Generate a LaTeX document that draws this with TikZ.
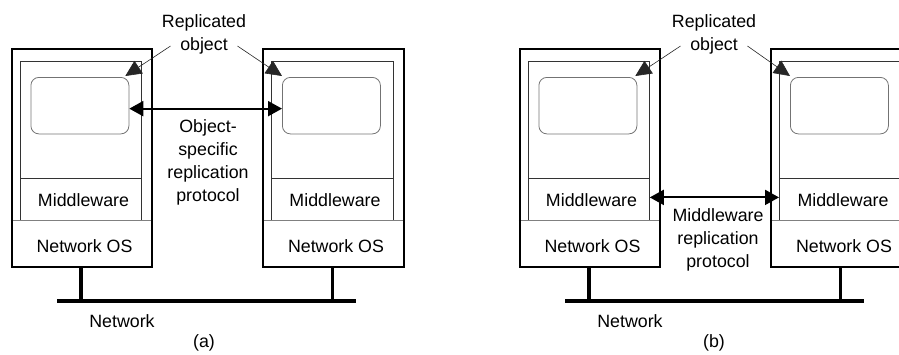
\documentclass[tikz,border=0pt]{standalone}
\usepackage{fontspec}
\setmainfont{Liberation Sans}
\usetikzlibrary{arrows.meta,calc}
\tikzset{
  outerbox/.style={draw, line width=2pt, minimum width=140.5pt, minimum height=218pt, inner sep=0pt, anchor=north west},
  appbox/.style={draw=black!80, line width=0.8pt, minimum width=121.5pt, minimum height=117pt, inner sep=0pt, anchor=north west},
  mwbox/.style={draw=black!80, line width=0.8pt, minimum width=121.5pt, minimum height=42pt, inner sep=0pt, anchor=north west},
  osarea/.style={minimum width=140.5pt, minimum height=46pt, inner sep=0pt, anchor=north west},
  divider/.style={draw=black!50, line width=1pt},
  objbox/.style={draw=black!55, line width=0.8pt, rounded corners=8pt, minimum width=98pt, minimum height=56.5pt, inner sep=0pt, anchor=north west},
  lbl/.style={font=\fontsize{17.8}{23}\selectfont, inner sep=0pt, align=center},
  objlbl/.style={font=\fontsize{17.8}{23}\selectfont, inner ysep=0pt, inner xsep=9.5pt},
  wire/.style={line width=3.2pt},
  pointer/.style={draw=black!85, line width=0.6pt, -{Triangle[length=16pt,width=15pt]}},
  protocol/.style={line width=2pt, {Triangle[length=14pt,width=15pt]}-{Triangle[length=14pt,width=15pt]}}
}
\newcommand\machine[2]{%
  \node[appbox] (#1app) at (#2+9,61) {};
  \node[mwbox] (#1mw) at (#2+9,178) {};
  \node[osarea] (#1os) at (#2,220) {};
  \draw[divider] (#1os.north west) -- (#1os.north east);
  \node[objbox] (#1obj) at (#2+20,77) {};
  \node[lbl] (#1mwt) at (#2+73,200) {Middleware};
  \node[lbl] (#1ost) at (#2+74,246) {Network OS};
  \node[outerbox] (#1) at (#2,48) {};
  \coordinate (#1foot) at (#2+70.5,301);
  \draw[wire] (#1.south -| #1foot) -- (#1foot);
}
\begin{document}
\begin{tikzpicture}[x=1pt,y=-1pt]
\useasboundingbox (0,0) rectangle (899,354);
\clip (0,0) rectangle (899,354);
% ---------- (a) ----------
\machine{ma}{10.5}
\machine{mb}{262}
\coordinate (netaL) at (57,301);
\coordinate (netaR) at (356,301);
\draw[wire] (netaL) -- (netaR);
\node[lbl] (repa) at (204,23) {Replicated};
\node[objlbl] (obja) at (204,46) {object};
\draw[pointer] (obja.west) -- ([xshift=-4pt,yshift=1pt]maobj.north east);
\draw[pointer] (obja.east) -- ([yshift=1pt]mbobj.north west);
\draw[protocol] ([yshift=-3pt]maobj.east) -- ([yshift=-3pt]mbobj.west);
\node[lbl] (prota) at (208,162) {Object-\\specific\\replication\\protocol};
\node[lbl] (neta) at (122,321) {Network};
\node[lbl] (capa) at (204,343) {(a)};
% ---------- (b) ----------
\machine{mc}{518.5}
\machine{md}{770}
\coordinate (netbL) at (565,301);
\coordinate (netbR) at (864,301);
\draw[wire] (netbL) -- (netbR);
\node[lbl] (repb) at (714,23) {Replicated};
\node[objlbl] (objb) at (714,46) {object};
\draw[pointer] (objb.west) -- ([xshift=-2pt,yshift=1pt]mcobj.north east);
\draw[pointer] (objb.east) -- ([yshift=1pt]mdobj.north west);
\draw[protocol] ([yshift=2pt]mcmw.east) -- ([yshift=2pt]mdmw.west);
\node[lbl] (protb) at (718,240) {Middleware\\replication\\protocol};
\node[lbl] (netb) at (630,321) {Network};
\node[lbl] (capb) at (714,343) {(b)};
\end{tikzpicture}
\end{document}
